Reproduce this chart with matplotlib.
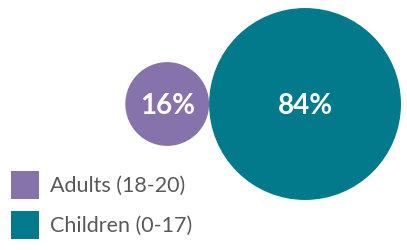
import numpy as np
import matplotlib.pyplot as plt
from matplotlib.patches import Circle, Rectangle

# Данные
categories = ['Adults (18-20)', 'Children (0-17)']
values = [16, 84]
labels = ['16%', '84%']
colors = ['#8673AC', '#037A8B']

plt.rcParams['font.family'] = ['Lato', 'DejaVu Sans']

W, H = 407, 251
fig = plt.figure(figsize=(W / 100, H / 100), dpi=100)
ax = fig.add_axes([0, 0, 1, 1])
ax.set_xlim(0, W)
ax.set_ylim(H, 0)
ax.set_aspect('equal')
ax.axis('off')

# Площадь круга пропорциональна значению
k = 10.47
radii = [k * np.sqrt(v) for v in values]
cy = 105
right_edge = 401
x_big = right_edge - radii[1]
x_small = x_big - radii[1] - radii[0]
centers = [x_small, x_big]

for x, r, c, lab in zip(centers, radii, colors, labels):
    ax.add_patch(Circle((x, cy), r, color=c, lw=0))
    ax.text(x, cy + 1, lab, color='white', fontsize=20, fontweight='bold',
            ha='center', va='center')

# Легенда
for i, (cat, c) in enumerate(zip(categories, colors)):
    y0 = 172 + i * 40
    ax.add_patch(Rectangle((11, y0), 28, 28, color=c, lw=0))
    ax.text(50, y0 + 14, cat, color='#595959', fontsize=15.5,
            ha='left', va='center')

fig.savefig('out.png', dpi=100)
